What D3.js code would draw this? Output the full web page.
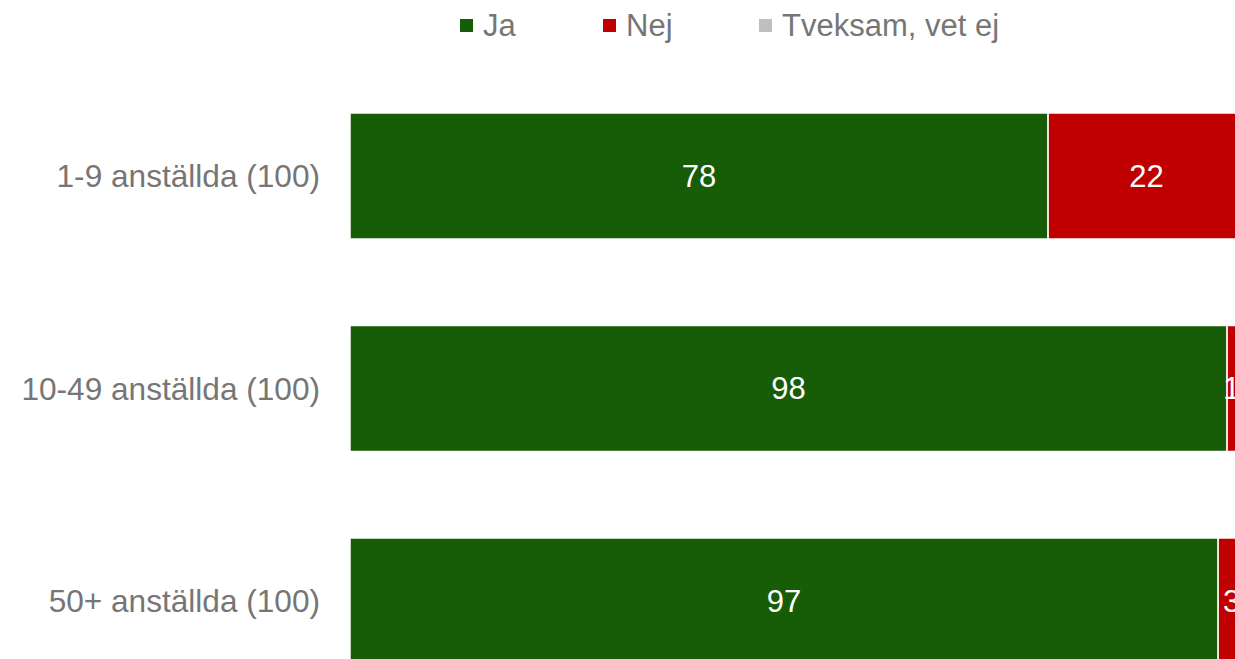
<!DOCTYPE html>
<html>
<head>
<meta charset="utf-8">
<script src="https://cdn.jsdelivr.net/npm/d3@7"></script>
<style>
  body { margin: 0; background: #fff; }
  svg { display: block; font-family: "Liberation Sans", Arial, sans-serif; }
</style>
</head>
<body>
<div id="chart-area"></div>
<script>
// DATA
const categories = ["1-9 anställda (100)", "10-49 anställda (100)", "50+ anställda (100)"]
const seriesNames = ["Ja", "Nej", "Tveksam, vet ej"]
const ja = [78, 98, 97]
const nej = [22, 1, 3]
const tveksam = [0, 0, 0]
const colors = ["#175c07", "#c00000", "#bfbfbf"]

const width = 1235, height = 659

const rows = categories.map((c, i) => ({ cat: c, "Ja": ja[i], "Nej": nej[i], "Tveksam, vet ej": tveksam[i] }))
const stack = d3.stack().keys(seriesNames)(rows)

const svg = d3.select("#chart-area").append("svg")
  .attr("width", width).attr("height", height)

// X => linear, bars run past the right edge like the original
const x = d3.scaleLinear().domain([0, 100]).range([350, 1245])

// Y => band
const y = d3.scaleBand().domain(categories)
  .range([69.75, 707.25])
  .paddingInner(0.407).paddingOuter(0.2035)

const color = d3.scaleOrdinal().domain(seriesNames).range(colors)

const layer = svg.selectAll("g.layer").data(stack).enter()
  .append("g").attr("class", "layer")
  .attr("fill", d => color(d.key))

layer.selectAll("rect").data(d => d).enter()
  .append("rect")
  .attr("x", d => x(d[0]))
  .attr("y", d => y(d.data.cat))
  .attr("width", d => x(d[1]) - x(d[0]))
  .attr("height", y.bandwidth())
  .attr("stroke", "#fff")
  .attr("stroke-width", 1.5)

// value labels
layer.selectAll("text").data(d => d.filter(v => v[1] - v[0] > 0)).enter()
  .append("text")
  .attr("x", d => (x(d[0]) + x(d[1])) / 2)
  .attr("y", d => y(d.data.cat) + y.bandwidth() / 2)
  .attr("dy", "0.35em")
  .attr("text-anchor", "middle")
  .attr("fill", "#fff")
  .attr("font-size", 31)
  .text(d => d[1] - d[0])

// category labels
svg.selectAll("text.cat").data(categories).enter()
  .append("text").attr("class", "cat")
  .attr("x", 320)
  .attr("y", d => y(d) + y.bandwidth() / 2)
  .attr("dy", "0.35em")
  .attr("text-anchor", "end")
  .attr("fill", "#767676")
  .attr("font-size", 31.6)
  .text(d => d)

// legend
const legendX = [460, 603, 759]
const legend = svg.selectAll("g.legend").data(seriesNames).enter()
  .append("g").attr("class", "legend")
  .attr("transform", (d, i) => `translate(${legendX[i]},25)`)

legend.append("rect")
  .attr("x", 0).attr("y", -6)
  .attr("width", 13).attr("height", 13)
  .attr("fill", d => color(d))

legend.append("text")
  .attr("x", 23).attr("dy", "0.35em")
  .attr("fill", "#767676")
  .attr("font-size", 31)
  .text(d => d)
</script>
</body>
</html>
